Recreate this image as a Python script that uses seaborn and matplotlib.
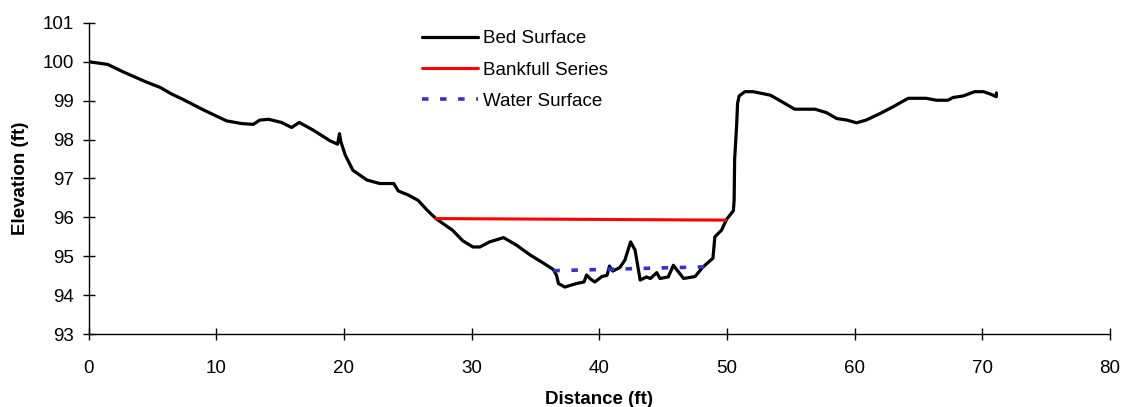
import matplotlib
matplotlib.use("Agg")
import matplotlib.pyplot as plt
import seaborn as sns

# bed surface profile (distance ft, elevation ft)
bed_x = [0, 1.5, 2.7, 4.5, 5.6, 6.5, 7.4, 9.0, 10.8, 12.0, 12.9, 13.4, 14.1, 15.1,
         15.9, 16.5, 17.6, 18.9, 19.5, 19.65, 19.75, 20.1, 20.7, 21.8, 22.8, 23.9,
         24.25, 25.0, 25.8, 26.5, 27.2, 28.5, 29.3, 30.1, 30.65, 31.4, 32.5, 33.5,
         34.6, 35.6, 36.4, 36.65, 36.8, 37.3, 38.2, 38.8, 39.0, 39.3, 39.65, 40.2,
         40.6, 40.8, 41.05, 41.6, 42.0, 42.45, 42.8, 43.2, 43.7, 44.0, 44.5, 44.75,
         45.4, 45.8, 46.6, 47.5, 48.1, 48.9, 49.05, 49.57, 49.97, 50.5, 50.56, 50.6,
         50.75, 50.83, 50.95, 51.4, 52.05, 53.4, 54.1, 55.3, 56.9, 57.8, 58.6, 59.4,
         60.15, 60.9, 62.0, 63.0, 63.7, 64.2, 65.6, 66.4, 67.3, 67.7, 68.5, 69.4,
         70.1, 70.7, 71.1, 71.1]
bed_y = [100.0, 99.93, 99.74, 99.48, 99.34, 99.17, 99.03, 98.76, 98.48, 98.41, 98.39,
         98.5, 98.52, 98.44, 98.31, 98.44, 98.24, 97.97, 97.88, 98.15, 97.95, 97.6,
         97.21, 96.96, 96.87, 96.87, 96.68, 96.58, 96.44, 96.19, 95.97, 95.67, 95.4,
         95.24, 95.24, 95.37, 95.48, 95.29, 95.03, 94.83, 94.66, 94.51, 94.3, 94.21,
         94.3, 94.34, 94.52, 94.42, 94.34, 94.48, 94.51, 94.75, 94.62, 94.71, 94.9,
         95.37, 95.16, 94.39, 94.47, 94.43, 94.58, 94.43, 94.47, 94.77, 94.43, 94.48,
         94.72, 94.95, 95.5, 95.67, 95.95, 96.17, 96.44, 97.5, 98.33, 98.93, 99.12,
         99.23, 99.23, 99.14, 99.01, 98.78, 98.78, 98.69, 98.54, 98.5, 98.43, 98.5,
         98.67, 98.84, 98.97, 99.06, 99.06, 99.01, 99.01, 99.08, 99.12, 99.23, 99.23,
         99.16, 99.1, 99.2]

bank_x = [27.2, 49.9]
bank_y = [95.97, 95.93]

water_x = [36.4, 48.3]
water_y = [94.63, 94.73]

x_ticks = list(range(0, 81, 10))
y_ticks = list(range(93, 102))

sns.set_style("white")
plt.rcParams["font.family"] = ["Liberation Sans", "DejaVu Sans"]
plt.rcParams["text.color"] = "black"
plt.rcParams["axes.labelcolor"] = "black"

fig = plt.figure(figsize=(11.22, 4.07), dpi=100)
ax = fig.add_axes([0.079, 0.179, 0.9103, 0.765])

sns.lineplot(x=bed_x, y=bed_y, sort=False, estimator=None, color="black",
             linewidth=2.3, label="Bed Surface", ax=ax)
sns.lineplot(x=bank_x, y=bank_y, sort=False, estimator=None, color="#FF0000",
             linewidth=2.2, label="Bankfull Series", ax=ax)
sns.lineplot(x=water_x, y=water_y, sort=False, estimator=None, color="#3333CC",
             linewidth=2.6, dashes=False, label="Water Surface", ax=ax)
ax.lines[-1].set_dashes((1.8, 3.2))

ax.set_xlim(0, 80)
ax.set_ylim(93, 101)
ax.set_xticks(x_ticks)
ax.set_yticks(y_ticks)
ax.tick_params(axis="both", direction="inout", length=9, width=1, colors="black",
               labelsize=13.5, bottom=True, left=True)
ax.tick_params(axis="x", pad=14)
ax.tick_params(axis="y", pad=6)
for side in ["top", "right"]:
    ax.spines[side].set_visible(False)
for side in ["left", "bottom"]:
    ax.spines[side].set_color("black")
    ax.spines[side].set_linewidth(1)

ax.set_xlabel("Distance (ft)", fontsize=13.5, fontweight="bold", labelpad=10)
ax.set_ylabel("Elevation (ft)", fontsize=13.5, fontweight="bold", labelpad=10)

leg = ax.legend(loc="upper left", bbox_to_anchor=(0.31, 1.03), frameon=False,
                fontsize=13.5, handlelength=3.0, handletextpad=0.25,
                labelspacing=0.75)

fig.savefig("out.png", dpi=100)
